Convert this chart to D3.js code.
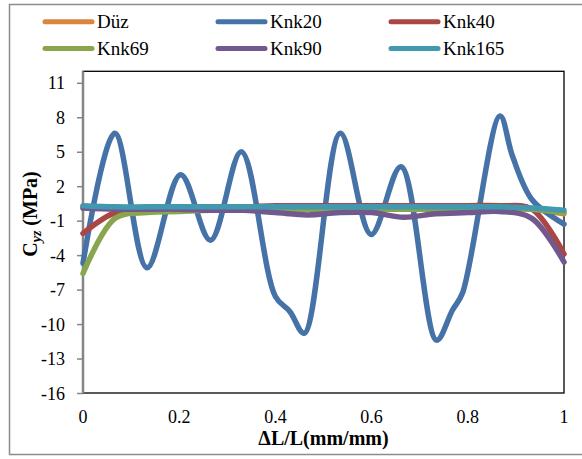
<!DOCTYPE html>
<html>
<head>
<meta charset="utf-8">
<script src="https://cdn.jsdelivr.net/npm/d3@7"></script>
<style>
  body { margin: 0; background: #fff; }
</style>
</head>
<body>
<div id="grafica"></div>
<script>
  // datos
  const series = ["Düz", "Knk20", "Knk40", "Knk69", "Knk90", "Knk165"];
  const colores = ["#DB843D", "#4572A7", "#AA4643", "#89A54E", "#71588F", "#4198AF"];

  // eje x comun para las series planas
  const xComun = [0, 0.067, 0.133, 0.2, 0.267, 0.333, 0.4, 0.467, 0.533, 0.6, 0.667, 0.733, 0.8, 0.867, 0.933, 1];
  const duz    = [0.2, 0.1, 0.1, 0.1, 0.1, 0.1, 0.1, 0.1, 0.1, 0.1, 0.1, 0.1, 0.1, 0.1, 0.0, -0.4];
  const knk40  = [-2.1, -0.3, 0.0, 0.1, 0.2, 0.2, 0.3, 0.3, 0.3, 0.3, 0.3, 0.3, 0.3, 0.3, 0.0, -3.9];
  const knk69  = [-5.6, -0.8, -0.3, -0.2, -0.1, -0.1, 0.0, 0.0, 0.0, 0.0, 0.0, 0.0, 0.0, 0.0, 0.0, -0.3];
  const knk90  = [0.1, 0.0, 0.0, 0.0, -0.1, -0.1, -0.3, -0.5, -0.3, -0.3, -0.7, -0.4, -0.3, -0.2, -0.8, -4.6];
  const knk165 = [0.3, 0.2, 0.2, 0.2, 0.2, 0.2, 0.2, 0.2, 0.2, 0.2, 0.2, 0.2, 0.2, 0.2, 0.1, -0.1];

  // Knk20 tiene sus propios puntos
  const xKnk20 = [0, 0.066, 0.133, 0.203, 0.265, 0.329, 0.40, 0.43, 0.46, 0.535, 0.599, 0.661, 0.735, 0.768, 0.789, 0.867, 0.893, 0.934, 1];
  const knk20  = [-4.7, 6.6, -5.1, 3.0, -2.7, 5.0, -7.6, -8.9, -10.8, 6.6, -2.2, 3.7, -11.4, -8.8, -7.3, 8.1, 4.6, 0.8, -1.3];

  const xTicks = [0, 0.2, 0.4, 0.6, 0.8, 1];
  const yTicks = [-16, -13, -10, -7, -4, -1, 2, 5, 8, 11];

  const valores = [duz, knk20, knk40, knk69, knk90, knk165];
  const xs = [xComun, xKnk20, xComun, xComun, xComun, xComun];

  const fuente = "'Times New Roman', Tinos, 'Liberation Serif', 'DejaVu Serif', 'Noto Serif', serif";
  const width = 582, height = 459;
  const izq = 83, der = 564, arriba = 71.3, abajo = 393;

  const svg = d3.select("#grafica")
    .append("svg")
    .attr("width", width)
    .attr("height", height)
    .style("font-family", fuente);

  // marco exterior
  svg.append("rect")
    .attr("x", 9.5).attr("y", 4.5)
    .attr("width", 580).attr("height", 450)
    .attr("fill", "#fff")
    .attr("stroke", "#8c8c8c")
    .attr("stroke-width", 1.5);

  const x = d3.scaleLinear().domain([0, 1]).range([izq, der]);
  const y = d3.scaleLinear().domain([-16, 12]).range([abajo, arriba]);

  // area de la grafica
  svg.append("rect")
    .attr("x", izq).attr("y", arriba)
    .attr("width", der - izq).attr("height", abajo - arriba)
    .attr("fill", "none")
    .attr("stroke", "#000")
    .attr("stroke-width", 1.3);

  // eje horizontal en y = 0
  const ejeX = svg.append("g")
    .attr("transform", `translate(0,${y(0)})`)
    .call(d3.axisBottom(x).tickValues(xTicks).tickSize(4).tickFormat(""));
  ejeX.select(".domain").attr("stroke", "#999").attr("stroke-width", 1);
  ejeX.selectAll(".tick line").attr("stroke", "#999");
  ejeX.selectAll(".tick text").remove();

  // etiquetas x abajo
  svg.selectAll(".xlab")
    .data(xTicks)
    .enter()
    .append("text")
    .attr("class", "xlab")
    .attr("x", d => x(d))
    .attr("y", 423)
    .attr("text-anchor", "middle")
    .style("font-family", fuente)
    .attr("font-size", 18)
    .text(d => d);

  // eje vertical
  const ejeY = svg.append("g")
    .attr("transform", `translate(${izq},0)`)
    .call(d3.axisLeft(y).tickValues(yTicks).tickSize(6).tickPadding(12).tickFormat(d => d));
  ejeY.select(".domain").attr("stroke", "#868686").attr("stroke-width", 2.5)
    .attr("d", `M0,${abajo}V${arriba}`);
  ejeY.selectAll(".tick line").attr("stroke", "#868686").attr("stroke-width", 1.5);
  ejeY.selectAll(".tick text")
    .attr("font-size", 18)
    .style("font-family", fuente)
    .attr("fill", "#000")
    .attr("dy", "0.34em");

  // lineas
  const linea = d3.line()
    .x(d => x(d[0]))
    .y(d => y(d[1]))
    .curve(d3.curveCatmullRom.alpha(0.5));

  valores.forEach((v, i) => {
    const puntos = v.map((val, j) => [xs[i][j], val]);
    svg.append("path")
      .attr("d", linea(puntos))
      .attr("fill", "none")
      .attr("stroke", colores[i])
      .attr("stroke-width", 5.5)
      .attr("stroke-linejoin", "round")
      .attr("stroke-linecap", "round");
  });

  // leyenda
  const leyenda = svg.selectAll(".ley")
    .data(series)
    .enter()
    .append("g")
    .attr("class", "ley")
    .attr("transform", (d, i) => `translate(${45 + (i % 3) * 173},${i < 3 ? 21.7 : 48.5})`);

  leyenda.append("line")
    .attr("x1", 0).attr("x2", 47)
    .attr("stroke", (d, i) => colores[i])
    .attr("stroke-width", 5)
    .attr("stroke-linecap", "round");

  leyenda.append("text")
    .attr("x", 52)
    .attr("y", 6.5)
    .style("font-family", fuente)
    .attr("font-size", 19)
    .text(d => d);

  // titulos
  svg.append("text")
    .attr("x", (izq + der) / 2)
    .attr("y", 445)
    .attr("text-anchor", "middle")
    .style("font-family", fuente)
    .attr("font-size", 20)
    .attr("font-weight", "bold")
    .text("ΔL/L(mm/mm)");

  const tituloY = svg.append("text")
    .attr("transform", "translate(37,214) rotate(-90)")
    .attr("text-anchor", "middle")
    .style("font-family", fuente)
    .attr("font-size", 20)
    .attr("font-weight", "bold");
  tituloY.append("tspan").text("C");
  tituloY.append("tspan").attr("font-size", 14).attr("font-style", "italic").attr("dy", 4).text("yz");
  tituloY.append("tspan").attr("dy", -4).text(" (MPa)");
</script>
</body>
</html>
